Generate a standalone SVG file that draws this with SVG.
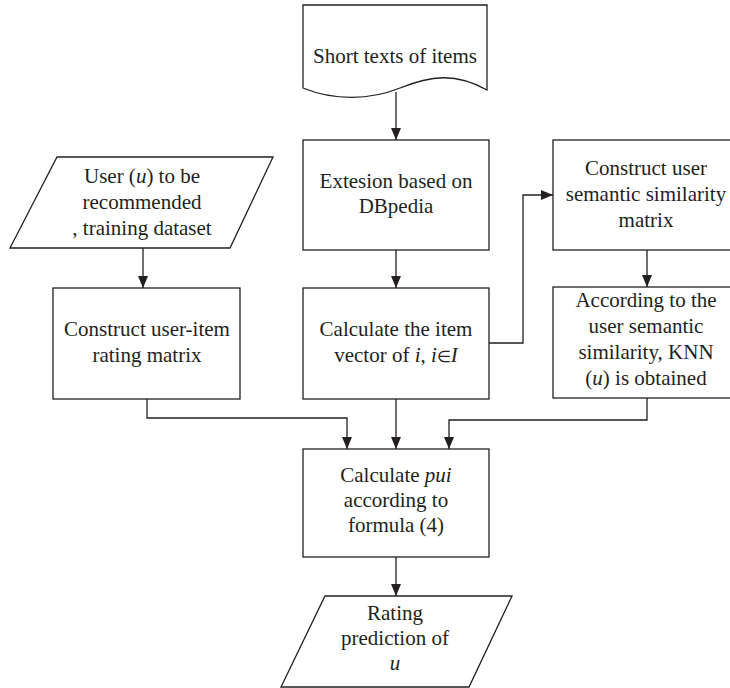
<svg xmlns="http://www.w3.org/2000/svg" width="730" height="688" viewBox="0 0 730 688">
<defs>
<style>
.s{fill:#fff;stroke:#231f20;stroke-width:1.3}
.c{fill:none;stroke:#231f20;stroke-width:1.3}
text{font-family:"Liberation Serif","Times New Roman",serif;font-size:21px;fill:#231f20;text-anchor:middle}
.i{font-style:italic}
.e{font-size:16px}
</style>
<marker id="a" viewBox="0 0 12 10" refX="12" refY="5" markerWidth="12" markerHeight="10" markerUnits="userSpaceOnUse" orient="auto">
<path d="M0,0 L12,5 L0,10 Z" fill="#231f20"/>
</marker>
</defs>
<rect width="730" height="688" fill="#fff"/>
<g id="connectors">
<path class="c" d="M396,92 V140" marker-end="url(#a)"/>
<path class="c" d="M143,248 V288" marker-end="url(#a)"/>
<path class="c" d="M396,250 V288" marker-end="url(#a)"/>
<path class="c" d="M489,343 H523 V195 H553" marker-end="url(#a)"/>
<path class="c" d="M647,250 V287" marker-end="url(#a)"/>
<path class="c" d="M147,399 V418 H347 V449" marker-end="url(#a)"/>
<path class="c" d="M396,399 V449" marker-end="url(#a)"/>
<path class="c" d="M647,398 V420 H449 V449" marker-end="url(#a)"/>
<path class="c" d="M396,557 V596" marker-end="url(#a)"/>
</g>
<g id="short-texts">
<path class="s" d="M303,5 H487 V90 C455,72 430,76 400,88 C370,100 335,101 303,88 Z"/>
<text x="395" y="63">Short texts of items</text>
</g>
<g id="user-input">
<path class="s" d="M57,157 H273 L230,248 H10 Z"/>
<text x="142" y="183">User (<tspan class="i">u</tspan>) to be</text>
<text x="142" y="209">recommended</text>
<text x="142" y="235">, training dataset</text>
</g>
<g id="extension">
<rect class="s" x="303" y="140" width="186" height="110"/>
<text x="396" y="188">Extesion based on</text>
<text x="396" y="213">DBpedia</text>
</g>
<g id="semantic-matrix">
<rect class="s" x="553" y="140" width="188" height="110"/>
<text x="646" y="175">Construct user</text>
<text x="646" y="201">semantic similarity</text>
<text x="646" y="227">matrix</text>
</g>
<g id="rating-matrix">
<rect class="s" x="53" y="288" width="187" height="111"/>
<text x="147" y="336">Construct user-item</text>
<text x="147" y="362">rating matrix</text>
</g>
<g id="item-vector">
<rect class="s" x="303" y="288" width="186" height="111"/>
<text x="396" y="336">Calculate the item</text>
<text x="396" y="362">vector of <tspan class="i">i</tspan>, <tspan class="i">i</tspan><tspan class="e">∈</tspan><tspan class="i">I</tspan></text>
</g>
<g id="knn">
<rect class="s" x="553" y="287" width="188" height="111"/>
<text x="646" y="307">According to the</text>
<text x="646" y="333">user semantic</text>
<text x="646" y="359">similarity, KNN</text>
<text x="646" y="385">(<tspan class="i">u</tspan>) is obtained</text>
</g>
<g id="formula">
<rect class="s" x="303" y="449" width="186" height="108"/>
<text x="396" y="482">Calculate <tspan class="i">pui</tspan></text>
<text x="396" y="507">according to</text>
<text x="396" y="532">formula (4)</text>
</g>
<g id="prediction">
<path class="s" d="M325,596 H512 L469,687 H281 Z"/>
<text x="395" y="620">Rating</text>
<text x="395" y="645">prediction of</text>
<text x="395" y="670" class="i">u</text>
</g>
</svg>
